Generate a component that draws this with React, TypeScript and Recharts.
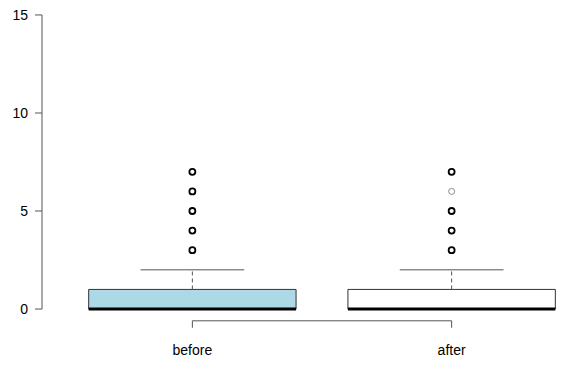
import React from "react";
import {
  ComposedChart,
  XAxis,
  YAxis,
  Scatter,
  ReferenceArea,
  ReferenceLine,
} from "recharts";

const categories = ["before", "after"];
const positions = [1, 2];
const q1 = [0, 0];
const medians = [0, 0];
const q3 = [1, 1];
const whiskerLow = [0, 0];
const whiskerHigh = [2, 2];
const outliersBefore = [3, 4, 5, 6, 7];
const countsBefore = [4, 3, 3, 2, 2];
const outliersAfter = [3, 4, 5, 6, 7];
const countsAfter = [4, 3, 2, 1, 2];
const yTicks = [0, 5, 10, 15];

const outlierData = [
  ...outliersBefore.map((v, i) => ({ x: positions[0], y: v, n: countsBefore[i] })),
  ...outliersAfter.map((v, i) => ({ x: positions[1], y: v, n: countsAfter[i] })),
];

const boxFills = ["#ADD8E6", "#FFFFFF"];
const FONT = "'Liberation Sans', Arial, Helvetica, sans-serif";
const AXIS = "#555";

const OutlierShape = (props: any) => {
  const { cx, cy, payload } = props;
  const multi = payload && payload.n > 1;
  return (
    <circle
      cx={cx}
      cy={cy}
      r={3}
      fill="none"
      stroke={multi ? "#000" : "#888"}
      strokeWidth={multi ? 1.8 : 1}
    />
  );
};

export default function App() {
  const half = 0.4;
  const capHalf = 0.2;
  return (
    <div style={{ position: "absolute", left: 0, top: 0, background: "#fff" }}>
      <ComposedChart
        width={580}
        height={370}
        margin={{ top: 3.2, right: -22, bottom: 0, left: 0 }}
        style={{ fontFamily: FONT }}
      >
        <XAxis
          type="number"
          dataKey="x"
          domain={[0.42, 2.58]}
          ticks={positions}
          allowDataOverflow
          axisLine={false}
          tickLine={{ stroke: AXIS }}
          tickSize={7}
          tickMargin={17}
          height={49.2}
          interval={0}
          tickFormatter={(v: number) => categories[positions.indexOf(v)] ?? ""}
          tick={{ fill: "#000", fontSize: 14, fontFamily: FONT }}
        />
        <YAxis
          type="number"
          dataKey="y"
          domain={[-0.6, 15.6]}
          ticks={yTicks}
          allowDataOverflow
          axisLine={false}
          tickLine={{ stroke: AXIS }}
          tickSize={7}
          tickMargin={7}
          width={42}
          interval={0}
          tick={{ fill: "#000", fontSize: 14, fontFamily: FONT }}
        />
        <ReferenceLine
          segment={[
            { x: 0.42, y: yTicks[0] },
            { x: 0.42, y: yTicks[yTicks.length - 1] },
          ]}
          stroke={AXIS}
          ifOverflow="visible"
        />
        <ReferenceLine
          segment={[
            { x: positions[0], y: -0.6 },
            { x: positions[positions.length - 1], y: -0.6 },
          ]}
          stroke={AXIS}
          ifOverflow="visible"
        />
        {positions.map((p, i) => (
          <ReferenceLine
            key={"wu" + i}
            segment={[
              { x: p, y: q3[i] },
              { x: p, y: whiskerHigh[i] },
            ]}
            stroke={AXIS}
            strokeDasharray="4 3"
            ifOverflow="visible"
          />
        ))}
        {positions.map((p, i) => (
          <ReferenceLine
            key={"cu" + i}
            segment={[
              { x: p - capHalf, y: whiskerHigh[i] },
              { x: p + capHalf, y: whiskerHigh[i] },
            ]}
            stroke={AXIS}
            ifOverflow="visible"
          />
        ))}
        {positions.map((p, i) => (
          <ReferenceLine
            key={"cl" + i}
            segment={[
              { x: p - capHalf, y: whiskerLow[i] },
              { x: p + capHalf, y: whiskerLow[i] },
            ]}
            stroke={AXIS}
            ifOverflow="visible"
          />
        ))}
        {positions.map((p, i) => (
          <ReferenceArea
            key={"box" + i}
            x1={p - half}
            x2={p + half}
            y1={q1[i]}
            y2={q3[i]}
            fill={boxFills[i]}
            fillOpacity={1}
            stroke="#333"
            strokeWidth={1}
            ifOverflow="visible"
          />
        ))}
        {positions.map((p, i) => (
          <ReferenceLine
            key={"med" + i}
            segment={[
              { x: p - half, y: medians[i] },
              { x: p + half, y: medians[i] },
            ]}
            stroke="#000"
            strokeWidth={3}
            ifOverflow="visible"
          />
        ))}
        <Scatter
          data={outlierData}
          dataKey="y"
          shape={<OutlierShape />}
          isAnimationActive={false}
        />
      </ComposedChart>
    </div>
  );
}
